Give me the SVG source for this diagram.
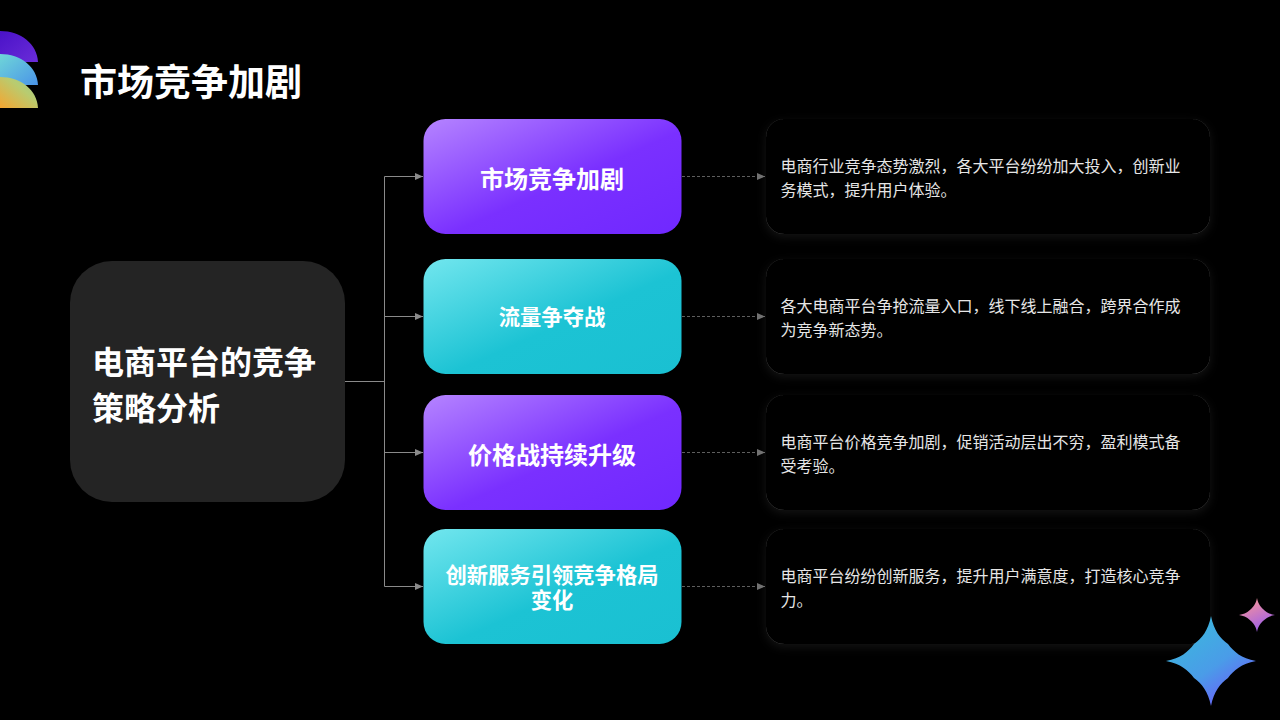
<svg xmlns="http://www.w3.org/2000/svg" width="1280" height="720" viewBox="0 0 1280 720">
<style>
text{font-family:"Noto Sans CJK SC","Liberation Sans",sans-serif}
.t{fill:#fff;font-weight:700;text-anchor:middle}
.d{fill:#e6e6e6;font-size:16px}
.s{fill:none;stroke:#8a8a8a;stroke-width:1}
.ds{fill:none;stroke:#5e5e5e;stroke-width:1;stroke-dasharray:3 2}
.card{fill:#000;filter:url(#sh)}
.pu{fill:url(#gp)}
.cy{fill:url(#gc)}
</style>
<defs>
<linearGradient id="gp" x1="0" y1="0" x2="1" y2="1"><stop offset="0" stop-color="#b584ff"/><stop offset=".55" stop-color="#7a30ff"/><stop offset="1" stop-color="#7028ff"/></linearGradient>
<linearGradient id="gc" x1="0" y1="0" x2="1" y2="1"><stop offset="0" stop-color="#72e6ee"/><stop offset=".55" stop-color="#1cc3d4"/><stop offset="1" stop-color="#1ac0d2"/></linearGradient>
<linearGradient id="l1" x1="0" y1="0" x2="1" y2="1"><stop offset="0" stop-color="#4a12c8"/><stop offset="1" stop-color="#6a2cd8"/></linearGradient>
<linearGradient id="l2" x1="0" y1="0" x2="1" y2="1"><stop offset="0" stop-color="#6fd6d8"/><stop offset="1" stop-color="#4a94e8"/></linearGradient>
<linearGradient id="l3" x1="0" y1="1" x2="1" y2="0"><stop offset="0" stop-color="#f6a530"/><stop offset=".6" stop-color="#b8cc70"/><stop offset="1" stop-color="#9cc890"/></linearGradient>
<linearGradient id="b1" x1="0.3" y1="0.2" x2="0.8" y2="0.9"><stop offset="0" stop-color="#3fb0e0"/><stop offset=".5" stop-color="#4a9ce8"/><stop offset="1" stop-color="#6a60f8"/></linearGradient>
<linearGradient id="b2" x1="0.3" y1="0.1" x2="0.7" y2="0.9"><stop offset="0" stop-color="#f090a0"/><stop offset="1" stop-color="#a060e8"/></linearGradient>
<filter id="sh" x="-10%" y="-20%" width="120%" height="140%"><feDropShadow dx="0" dy="3" stdDeviation="5" flood-color="#fff" flood-opacity=".08"/></filter>
<marker id="a" markerWidth="9" markerHeight="8" refX="8" refY="3.500" orient="auto" markerUnits="userSpaceOnUse"><path d="M0 0L8 3.500L0 7z" fill="#8a8a8a"/></marker>
<marker id="b" markerWidth="9" markerHeight="8" refX="8" refY="3.500" orient="auto" markerUnits="userSpaceOnUse"><path d="M0 0L8 3.500L0 7z" fill="#707070"/></marker>
</defs>
<rect width="1280" height="720" fill="#000"/>
<g id="logo">
<path d="M0 31C21 31 37 44 38 62H0z" fill="url(#l1)"/>
<path d="M0 54C21 54 37 67 38 85H0z" fill="url(#l2)"/>
<path d="M0 77C21 77 37 90 38 108H0z" fill="url(#l3)"/>
</g>
<text id="title" x="80" y="96" font-size="37" font-weight="700" fill="#fff">市场竞争加剧</text>
<g id="connectors">
<path class="s" d="M345 381.500H384.500"/>
<path class="s" d="M384.500 176.500V586.500"/>
<path class="s" marker-end="url(#a)" d="M384.500 176.500H423"/>
<path class="s" marker-end="url(#a)" d="M384.500 316.500H423"/>
<path class="s" marker-end="url(#a)" d="M384.500 452.500H423"/>
<path class="s" marker-end="url(#a)" d="M384.500 586.500H423"/>
<path class="ds" marker-end="url(#b)" d="M682 176.500H765"/>
<path class="ds" marker-end="url(#b)" d="M682 316.500H765"/>
<path class="ds" marker-end="url(#b)" d="M682 452.500H765"/>
<path class="ds" marker-end="url(#b)" d="M682 586.500H765"/>
</g>
<g id="root"><rect x="70" y="261" width="275" height="241" rx="42" fill="#242424"/>
<text x="92" y="374" font-size="32" font-weight="700" fill="#fff">电商平台的竞争</text>
<text x="92" y="420" font-size="32" font-weight="700" fill="#fff">策略分析</text></g>
<g id="n1"><rect class="pu" x="423.500" y="119" width="258" height="115" rx="22"/><text class="t" x="552" y="188" font-size="24">市场竞争加剧</text></g>
<g id="n2"><rect class="cy" x="423.500" y="259" width="258" height="115" rx="22"/><text class="t" x="552" y="325" font-size="21.300">流量争夺战</text></g>
<g id="n3"><rect class="pu" x="423.500" y="395" width="258" height="115" rx="22"/><text class="t" x="552" y="464" font-size="24">价格战持续升级</text></g>
<g id="n4"><rect class="cy" x="423.500" y="529" width="258" height="115" rx="22"/><text class="t" x="552" y="583" font-size="21.300">创新服务引领竞争格局</text><text class="t" x="552" y="608" font-size="21.300">变化</text></g>
<g id="c1"><rect class="card" x="766" y="119" width="444" height="115" rx="18"/><text class="d" x="780.500" y="172">电商行业竞争态势激烈，各大平台纷纷加大投入，创新业</text><text class="d" x="780.500" y="196">务模式，提升用户体验。</text></g>
<g id="c2"><rect class="card" x="766" y="259" width="444" height="115" rx="18"/><text class="d" x="780.500" y="312">各大电商平台争抢流量入口，线下线上融合，跨界合作成</text><text class="d" x="780.500" y="336">为竞争新态势。</text></g>
<g id="c3"><rect class="card" x="766" y="395" width="444" height="115" rx="18"/><text class="d" x="780.500" y="448">电商平台价格竞争加剧，促销活动层出不穷，盈利模式备</text><text class="d" x="780.500" y="472">受考验。</text></g>
<g id="c4"><rect class="card" x="766" y="529" width="444" height="115" rx="18"/><text class="d" x="780.500" y="582">电商平台纷纷创新服务，提升用户满意度，打造核心竞争</text><text class="d" x="780.500" y="606">力。</text></g>
<g id="stars">
<path d="M1211 616C1214 631 1220 638 1228 644C1234 652 1241 658 1256 661C1241 664 1234 670 1228 678C1220 684 1214 691 1211 706C1208 691 1202 684 1194 678C1188 670 1181 664 1166 661C1181 658 1188 652 1194 644C1202 638 1208 631 1211 616z" fill="url(#b1)"/>
<path d="M1257 598C1258 604 1261 607 1263 609C1266 612 1269 614 1275 615C1269 616 1266 618 1263 621C1261 623 1258 626 1257 632C1256 626 1253 623 1251 621C1248 618 1245 616 1239 615C1245 614 1248 612 1251 609C1253 607 1256 604 1257 598z" fill="url(#b2)"/>
</g>
</svg>
